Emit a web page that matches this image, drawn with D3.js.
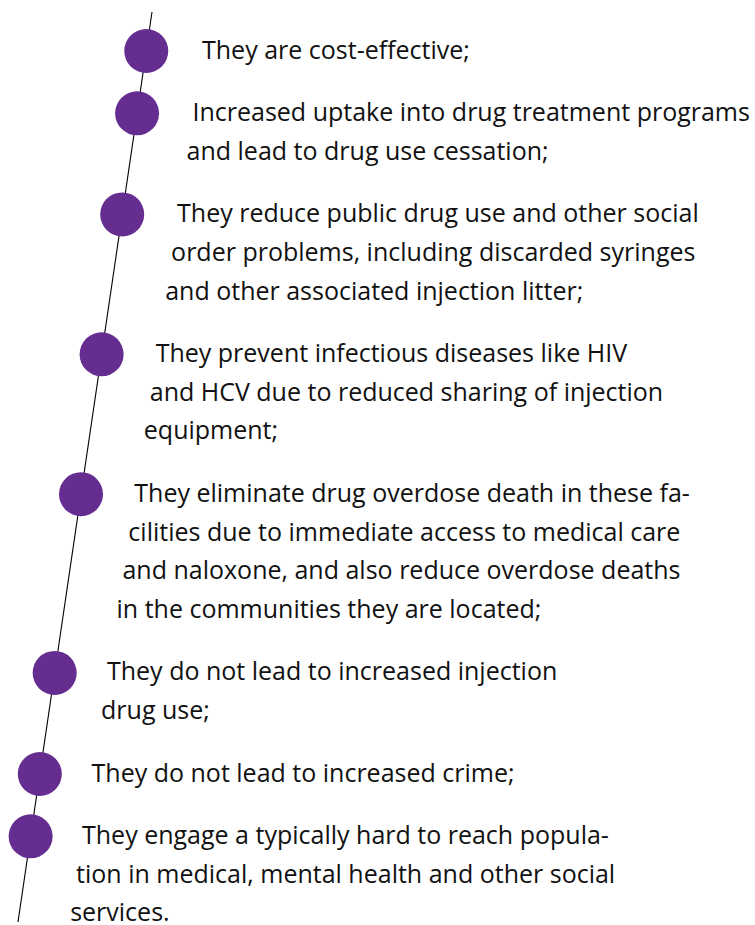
<!DOCTYPE html>
<html><head><meta charset="utf-8">
<script src="https://cdn.jsdelivr.net/npm/d3@7"></script>
<style>html,body{margin:0;padding:0;background:#fff;}</style>
</head><body>
<script>
const items = [
  ["They are cost-effective;"],
  ["Increased uptake into drug treatment programs", "and lead to drug use cessation;"],
  ["They reduce public drug use and other social", "order problems, including discarded syringes", "and other associated injection litter;"],
  ["They prevent infectious diseases like HIV", "and HCV due to reduced sharing of injection", "equipment;"],
  ["They eliminate drug overdose death in these fa-", "cilities due to immediate access to medical care", "and naloxone, and also reduce overdose deaths", "in the communities they are located;"],
  ["They do not lead to increased injection", "drug use;"],
  ["They do not lead to increased crime;"],
  ["They engage a typically hard to reach popula-", "tion in medical, mental health and other social", "services."]
];

const W = 755, H = 925;
const lineH = 38.8, gap = 23.5, y0 = 50;
const svg = d3.select("body").append("svg").attr("width", W).attr("height", H);

const lineX = d3.scaleLinear().domain([12, 922]).range([152, 18]);
const textX = d3.scaleLinear().domain([50, 914]).range([202, 70]);

let starts = [], y = y0;
items.forEach(lines => { starts.push(y); y += lines.length * lineH + gap; });

svg.append("line")
  .attr("x1", lineX(12)).attr("y1", 12)
  .attr("x2", lineX(922)).attr("y2", 922)
  .attr("stroke", "#000").attr("stroke-width", 1.1);

svg.selectAll("circle").data(items).join("circle")
  .attr("cx", (d, i) => lineX(starts[i] + 1))
  .attr("cy", (d, i) => starts[i] + 1)
  .attr("r", 22)
  .attr("fill", "#662d91");

const g = svg.selectAll("g.item").data(items).join("g").attr("class", "item");
g.selectAll("text").data((d, i) => d.map((t, j) => ({t, y: starts[i] + j * lineH})))
  .join("text")
  .attr("x", d => textX(d.y))
  .attr("y", d => d.y + 8.5)
  .attr("font-family", "'Open Sans', sans-serif")
  .attr("font-size", 25)
  .attr("fill", "#111")
  .text(d => d.t);
</script>
</body></html>
